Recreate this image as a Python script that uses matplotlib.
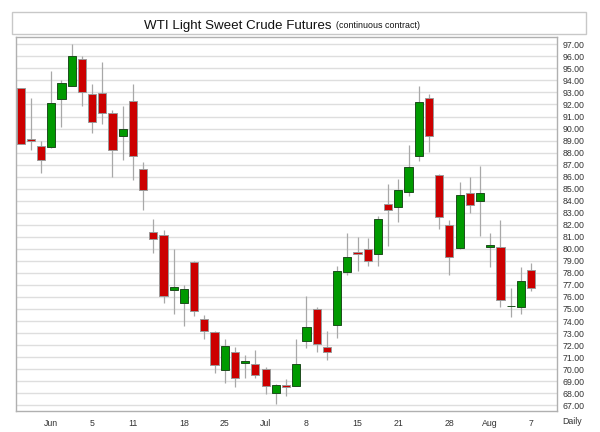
import matplotlib
matplotlib.use("Agg")
import matplotlib.pyplot as plt
from matplotlib.patches import Rectangle
import numpy as np

opens = [93.4, 89.1, 88.55, 88.5, 92.45, 93.5, 95.75, 92.85, 92.98, 91.3, 89.4, 92.26, 86.6,
         81.37, 81.15, 76.6, 75.52, 78.93, 74.14, 73.1, 69.93, 71.42, 70.5, 70.4, 69.98, 68.04,
         68.68, 68.6, 72.37, 74.97, 71.84, 73.67, 78.05, 79.73, 79.98, 79.6, 83.75, 83.48, 84.72,
         87.74, 92.54, 86.11, 81.95, 80.04, 84.66, 83.97, 80.15, 80.12, 75.25, 75.19, 78.24]
highs = [93.4, 92.5, 89.0, 94.8, 94.0, 97.0, 96.0, 93.7, 95.5, 91.55, 91.9, 93.7, 87.25,
         82.45, 81.55, 80.0, 77.0, 79.0, 74.5, 73.2, 72.5, 71.86, 71.17, 71.6, 70.2, 68.8,
         69.2, 72.5, 76.08, 75.14, 73.17, 78.57, 81.3, 80.96, 80.87, 82.75, 85.4, 85.83, 88.6,
         93.53, 92.87, 86.22, 82.39, 85.58, 85.94, 86.88, 81.29, 82.39, 76.72, 78.51, 78.85]
lows = [88.7, 88.2, 86.3, 88.4, 90.15, 93.5, 91.9, 89.65, 90.4, 85.95, 87.4, 85.7, 83.2,
        79.68, 75.5, 74.6, 73.6, 74.4, 72.5, 69.65, 68.87, 68.5, 69.3, 69.24, 67.93, 67.07,
        67.76, 68.6, 71.73, 71.45, 70.78, 72.61, 77.85, 78.18, 78.57, 78.6, 80.26, 82.23, 84.39,
        87.32, 88.06, 81.62, 77.82, 79.96, 83.0, 81.06, 78.46, 75.14, 74.3, 74.58, 76.52]
closes = [88.7, 88.95, 87.38, 92.15, 93.76, 96.05, 93.06, 90.57, 91.31, 88.2, 90.0, 87.7, 84.9,
          80.79, 76.08, 76.8, 76.63, 74.85, 73.2, 70.37, 71.95, 69.26, 70.7, 69.5, 68.6, 68.7,
          68.55, 70.4, 73.5, 72.1, 71.42, 78.16, 79.29, 79.6, 78.96, 82.5, 83.25, 84.89, 86.8,
          92.18, 89.35, 82.67, 79.29, 84.45, 83.62, 84.66, 80.32, 75.74, 75.25, 77.3, 76.72]

tick_positions = [3, 7, 11, 16, 20, 24, 28, 33, 37, 42, 46, 50]
tick_labels = ["Jun", "5", "11", "18", "25", "Jul", "8", "15", "21", "28", "Aug", "7"]

FONT = ["Liberation Sans", "DejaVu Sans"]
plt.rcParams["font.family"] = FONT

W, H = 600, 432
fig = plt.figure(figsize=(W / 100, H / 100), dpi=100, facecolor="white")

def fx(px):
    return px / W

def fy(py):
    return 1 - py / H

# Title box
fig.patches.append(Rectangle((fx(12), fy(34)), fx(586) - fx(12), fy(12) - fy(34),
                             transform=fig.transFigure, facecolor="white",
                             edgecolor="#c8c8c8", linewidth=1.0))
fig.text(fx(332), fy(28.5), "WTI Light Sweet Crude Futures", ha="right", va="baseline",
         fontsize=9.6, color="#111111")
fig.text(fx(336), fy(28.5), "(continuous contract)", ha="left", va="baseline",
         fontsize=6.4, color="#111111")

ax = fig.add_axes([fx(16), fy(411), fx(557) - fx(16), fy(37) - fy(411)])
ax.set_facecolor("white")

x = np.arange(len(opens))
o = np.array(opens); c = np.array(closes); h = np.array(highs); l = np.array(lows)
up = c >= o
colors = np.where(up, "#009a00", "#cc0000")
edges = np.where(up, "#1d4d1d", "#9a9a9a")

ax.vlines(x, l, h, color="#a8a8a8", linewidth=0.9, zorder=2)
bottoms = np.minimum(o, c)
heights = np.abs(c - o)
ax.bar(x, heights, width=0.8, bottom=bottoms, color=colors, edgecolor=edges,
       linewidth=0.7, zorder=3)

ax.set_xlim(-0.45, 52.54)
ax.set_ylim(66.52, 97.61)

yt = np.arange(67, 98, 1)
ax.set_yticks(yt)
ax.set_yticklabels([f"{v:.2f}" for v in yt])
ax.yaxis.tick_right()
ax.tick_params(axis="y", length=0, pad=4, labelsize=6.3, labelcolor="#333333")
ax.grid(axis="y", color="#dedede", linewidth=1.0, zorder=0)
ax.set_axisbelow(True)

ax.set_xticks(tick_positions)
ax.set_xticklabels(tick_labels)
ax.tick_params(axis="x", length=0, pad=6, labelsize=6.3, labelcolor="#333333")

for s in ax.spines.values():
    s.set_color("#b0b0b0")
    s.set_linewidth(1.0)

fig.text(fx(572), fy(422), "Daily", ha="center", va="center", fontsize=6.3, color="#333333")

fig.savefig("out.png", dpi=100, facecolor="white")
